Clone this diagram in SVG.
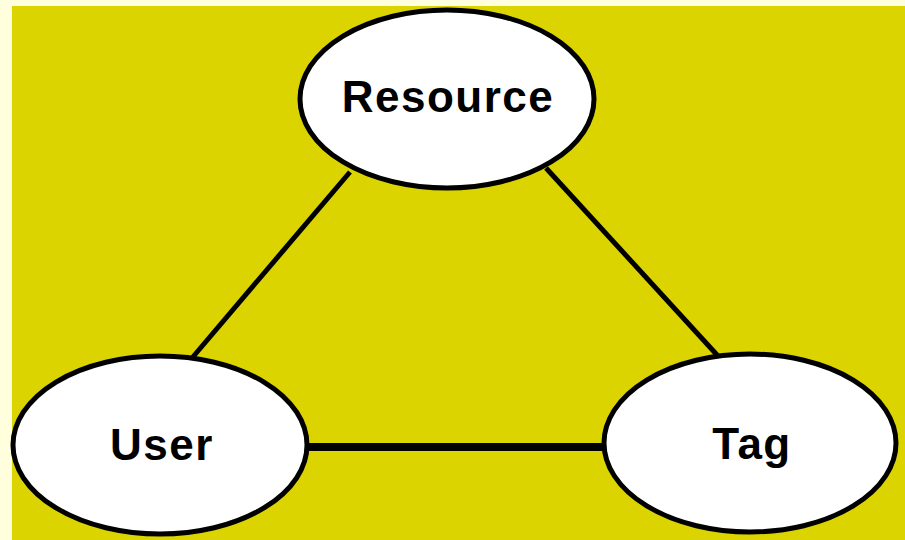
<svg xmlns="http://www.w3.org/2000/svg" width="905" height="540" viewBox="0 0 905 540">
<style>
.node ellipse{fill:#ffffff;stroke:#000000;stroke-width:5}
.node text{font-family:"Liberation Sans",Arial,sans-serif;font-weight:bold;font-size:44px;letter-spacing:1.5px;fill:#000000;text-anchor:middle}
.edge{stroke:#000000;stroke-width:5;fill:none}
</style>
<rect x="0" y="0" width="905" height="540" fill="#ffffdd"/>
<rect x="12" y="6" width="893" height="534" fill="#dcd400"/>
<g id="connectors">
<line class="edge" x1="350" y1="172" x2="192" y2="358"/>
<line class="edge" x1="546" y1="168" x2="718" y2="356"/>
<line class="edge" x1="305" y1="447" x2="606" y2="447" style="stroke-width:8"/>
</g>
<g id="node-resource" class="node">
<ellipse cx="447" cy="99" rx="147" ry="89"/>
<text x="448" y="112">Resource</text>
</g>
<g id="node-user" class="node">
<ellipse cx="160" cy="445" rx="147" ry="89"/>
<text x="162" y="460">User</text>
</g>
<g id="node-tag" class="node">
<ellipse cx="750" cy="443" rx="146" ry="89"/>
<text x="752" y="459">Tag</text>
</g>
</svg>
